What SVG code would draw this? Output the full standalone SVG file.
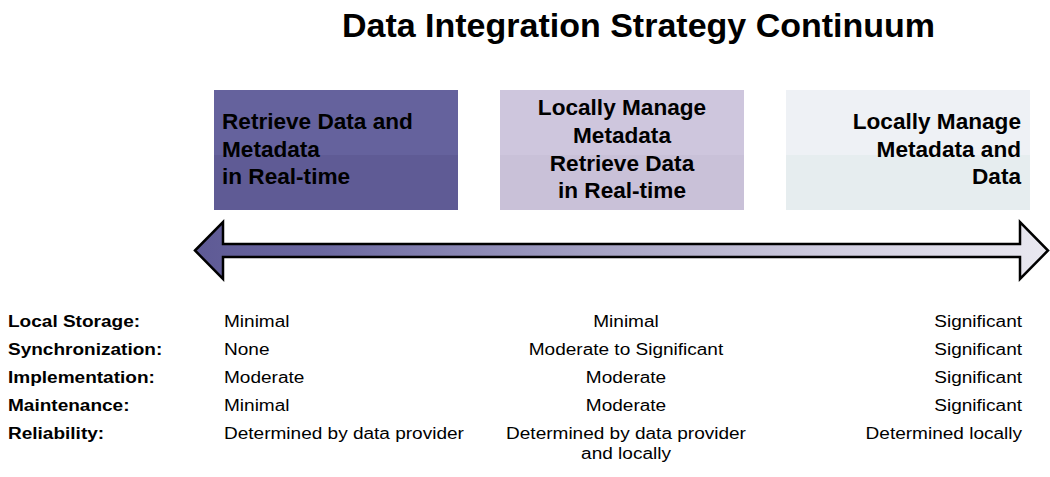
<svg xmlns="http://www.w3.org/2000/svg" width="1050" height="477" viewBox="0 0 1050 477">
  <defs>
    <linearGradient id="arrowGrad" x1="195" y1="0" x2="1048" y2="0" gradientUnits="userSpaceOnUse">
      <stop offset="0" stop-color="#5e5a95"/>
      <stop offset="0.15" stop-color="#6b68a0"/>
      <stop offset="0.3" stop-color="#8784b2"/>
      <stop offset="0.45" stop-color="#a29fc2"/>
      <stop offset="0.6" stop-color="#b9b6d0"/>
      <stop offset="0.75" stop-color="#d0cde0"/>
      <stop offset="0.9" stop-color="#e0deea"/>
      <stop offset="1" stop-color="#e9e8f0"/>
    </linearGradient>
    <style>
      .title { font-family: "Liberation Sans", Arial, sans-serif; font-weight: bold; font-size: 34px; fill: #000; }
      .box { font-family: "Liberation Sans", Arial, sans-serif; font-weight: bold; font-size: 22.6px; fill: #000; }
      .lbl { font-family: "Liberation Sans", Arial, sans-serif; font-weight: bold; font-size: 16.4px; fill: #000; }
      .val { font-family: "Liberation Sans", Arial, sans-serif; font-size: 16.4px; fill: #000; }
      .mid { text-anchor: middle; }
      .end { text-anchor: end; }
    </style>
  </defs>
  <rect width="1050" height="477" fill="#ffffff"/>

  <text class="title mid" x="638.5" y="37">Data Integration Strategy Continuum</text>

  <g id="node-realtime">
    <rect x="214" y="90" width="244" height="65" fill="#65629d"/>
    <rect x="214" y="155" width="244" height="55" fill="#5f5b95"/>
    <text class="box" x="222" y="129">Retrieve Data and</text>
    <text class="box" x="222" y="156.5">Metadata</text>
    <text class="box" x="222" y="184">in Real-time</text>
  </g>

  <g id="node-hybrid">
    <rect x="500" y="90" width="244" height="65" fill="#cec6dd"/>
    <rect x="500" y="155" width="244" height="55" fill="#c9c1d8"/>
    <text class="box mid" x="622" y="115">Locally Manage</text>
    <text class="box mid" x="622" y="143">Metadata</text>
    <text class="box mid" x="622" y="170.5">Retrieve Data</text>
    <text class="box mid" x="622" y="198">in Real-time</text>
  </g>

  <g id="node-local">
    <rect x="786" y="90" width="244" height="65" fill="#eef1f5"/>
    <rect x="786" y="155" width="244" height="55" fill="#e6edef"/>
    <text class="box end" x="1021" y="129">Locally Manage</text>
    <text class="box end" x="1021" y="156.5">Metadata and</text>
    <text class="box end" x="1021" y="184">Data</text>
  </g>

  <g id="connectors">
    <path d="M195,250.5 L223,222 L223,244 L1020,244 L1020,222 L1048,250.5 L1020,279 L1020,257 L223,257 L223,279 Z" fill="url(#arrowGrad)" stroke="#000" stroke-width="2.5" stroke-linejoin="miter"/>
  </g>

  <g id="table">
    <text class="lbl" transform="translate(8,327) scale(1.16,1)">Local Storage:</text>
    <text class="lbl" transform="translate(8,355) scale(1.16,1)">Synchronization:</text>
    <text class="lbl" transform="translate(8,383) scale(1.16,1)">Implementation:</text>
    <text class="lbl" transform="translate(8,411) scale(1.16,1)">Maintenance:</text>
    <text class="lbl" transform="translate(8,439) scale(1.16,1)">Reliability:</text>

    <text class="val" transform="translate(224,327) scale(1.16,1)">Minimal</text>
    <text class="val" transform="translate(224,355) scale(1.16,1)">None</text>
    <text class="val" transform="translate(224,383) scale(1.16,1)">Moderate</text>
    <text class="val" transform="translate(224,411) scale(1.16,1)">Minimal</text>
    <text class="val" transform="translate(224,439) scale(1.16,1)">Determined by data provider</text>

    <text class="val mid" transform="translate(626,327) scale(1.16,1)">Minimal</text>
    <text class="val mid" transform="translate(626,355) scale(1.16,1)">Moderate to Significant</text>
    <text class="val mid" transform="translate(626,383) scale(1.16,1)">Moderate</text>
    <text class="val mid" transform="translate(626,411) scale(1.16,1)">Moderate</text>
    <text class="val mid" transform="translate(626,439) scale(1.16,1)">Determined by data provider</text>
    <text class="val mid" transform="translate(626,459) scale(1.16,1)">and locally</text>

    <text class="val end" transform="translate(1022,327) scale(1.16,1)">Significant</text>
    <text class="val end" transform="translate(1022,355) scale(1.16,1)">Significant</text>
    <text class="val end" transform="translate(1022,383) scale(1.16,1)">Significant</text>
    <text class="val end" transform="translate(1022,411) scale(1.16,1)">Significant</text>
    <text class="val end" transform="translate(1022,439) scale(1.16,1)">Determined locally</text>
  </g>
</svg>
